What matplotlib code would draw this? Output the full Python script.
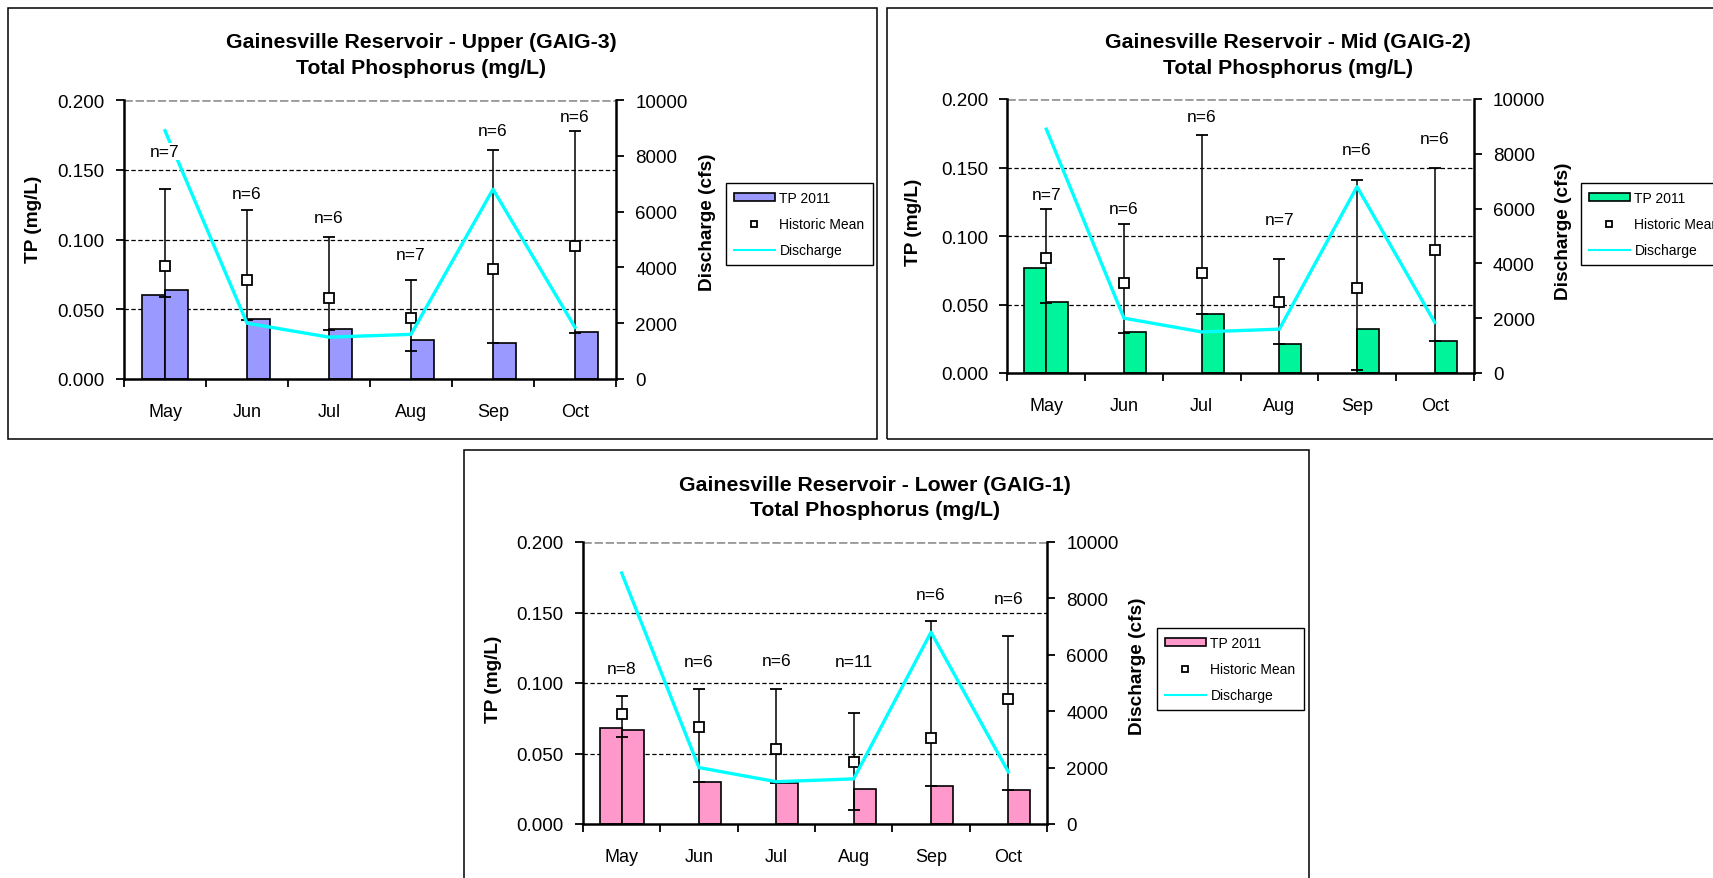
import numpy as np
import matplotlib
matplotlib.use('Agg')
import matplotlib.pyplot as plt
from matplotlib.patches import Rectangle, Patch
from matplotlib.lines import Line2D
from matplotlib.ticker import FormatStrFormatter

plt.rcParams['font.family'] = ['Liberation Sans', 'DejaVu Sans']

# ---------------- data ----------------
months = ['May', 'Jun', 'Jul', 'Aug', 'Sep', 'Oct']
discharge = [8900, 2000, 1500, 1600, 6800, 1850]
nan = np.nan

upper_tp_a = [0.060, nan, nan, nan, nan, nan]
upper_tp_b = [0.064, 0.043, 0.036, 0.028, 0.026, 0.034]
upper_mean = [0.081, 0.071, 0.058, 0.044, 0.079, 0.095]
upper_max = [0.136, 0.121, 0.102, 0.071, 0.164, 0.178]
upper_min = [0.059, 0.042, 0.035, 0.020, 0.026, 0.033]
upper_n = [7, 6, 6, 7, 6, 6]

mid_tp_a = [0.077, nan, nan, nan, nan, nan]
mid_tp_b = [0.052, 0.030, 0.043, 0.021, 0.032, 0.023]
mid_mean = [0.084, 0.066, 0.073, 0.052, 0.062, 0.090]
mid_max = [0.120, 0.109, 0.174, 0.083, 0.141, 0.150]
mid_min = [0.051, 0.029, 0.043, 0.021, 0.002, 0.023]
mid_n = [7, 6, 6, 7, 6, 6]

lower_tp_a = [0.068, nan, nan, nan, nan, nan]
lower_tp_b = [0.067, 0.030, 0.029, 0.025, 0.027, 0.024]
lower_mean = [0.078, 0.069, 0.053, 0.044, 0.061, 0.089]
lower_max = [0.091, 0.096, 0.096, 0.079, 0.144, 0.133]
lower_min = [0.062, 0.030, 0.029, 0.010, 0.027, 0.024]
lower_n = [8, 6, 6, 11, 6, 6]

# label placement (layout, in TP units)
upper_n_y = [0.163, 0.133, 0.116, 0.089, 0.178, 0.188]
mid_n_y = [0.130, 0.120, 0.187, 0.112, 0.163, 0.171]
lower_n_y = [0.110, 0.115, 0.116, 0.115, 0.163, 0.160]

# ---------------- layout ----------------
W, H = 1713, 879
fig = plt.figure(figsize=(W / 100, H / 100), dpi=100)


def fx(px):
    return px / W


def fy(py):
    return 1 - py / H


def frame(l, t, r, b):
    fig.add_artist(Rectangle((fx(l), fy(b)), fx(r - l), (b - t) / H,
                             transform=fig.transFigure, fill=False,
                             edgecolor='black', lw=1.1, clip_on=False))


def panel(ax_px, tp_a, tp_b, mean, lo, hi, nvals, n_y, color,
          title1, title2, title_xy, ylab_xy, y2lab_xy, leg_xy):
    l, t, r, b = ax_px
    ax = fig.add_axes([fx(l), fy(b), fx(r - l), (b - t) / H])
    x = np.arange(len(months))
    ax.set_xlim(-0.5, len(months) - 0.5)
    ax.set_ylim(0, 0.2)
    yt = np.arange(0, 0.2001, 0.05)
    ax.set_yticks(yt)
    ax.yaxis.set_major_formatter(FormatStrFormatter('%.3f'))
    for g in yt[1:-1]:
        ax.axhline(g, color='black', lw=0.9, ls=(0, (3.5, 2)), zorder=0.5)
    ax.axhline(yt[-1], color='#9a9a9a', lw=2.0, ls=(0, (3, 1)), zorder=0.5)

    bw = 0.285
    ax.bar(x, tp_a, width=-bw, align='edge', color=color,
           edgecolor='black', lw=1.2, zorder=2)
    ax.bar(x, tp_b, width=bw, align='edge', color=color,
           edgecolor='black', lw=1.2, zorder=2)
    mean = np.array(mean)
    yerr = [mean - np.array(lo), np.array(hi) - mean]
    ax.errorbar(x, mean, yerr=yerr, fmt='s', mfc='white', mec='black',
                ms=7, mew=1.3, ecolor='black', elinewidth=1.1,
                capsize=4, capthick=1.2, zorder=3)

    ax.set_xticks(x)
    ax.set_xticklabels(months)
    ax.set_xticks(np.arange(-0.5, len(months), 1), minor=True)
    ax.tick_params(axis='x', which='major', length=0, pad=17, labelsize=13)
    ax.tick_params(axis='x', which='minor', length=6, width=1.3,
                   direction='out')
    ax.tick_params(axis='y', length=6, width=1.3, direction='out', pad=8,
                   labelsize=13.5)
    for s in ['top', 'right']:
        ax.spines[s].set_visible(False)
    for s in ['left', 'bottom']:
        ax.spines[s].set_linewidth(1.8)

    ax2 = ax.twinx()
    ax2.set_ylim(0, 10000)
    ax2.set_yticks(np.arange(0, 10001, 2000))
    ax2.plot(x, discharge, color='#00FFFF', lw=2.4, zorder=2)
    ax2.tick_params(axis='y', length=6, width=1.3, direction='out', pad=8,
                    labelsize=13.5)
    for s in ['top', 'left', 'bottom']:
        ax2.spines[s].set_visible(False)
    ax2.spines['right'].set_linewidth(1.8)

    for xi, ni, yi in zip(x, nvals, n_y):
        ax2.text(xi, yi, f'n={ni}', transform=ax.transData, ha='center',
                 va='center', fontsize=12.5, zorder=6,
                 bbox=dict(fc='white', ec='none', pad=0.6))

    fig.text(fx(title_xy[0]), fy(title_xy[1]), title1, ha='center',
             va='center', fontsize=15.3, fontweight='bold')
    fig.text(fx(title_xy[0]), fy(title_xy[1] + 25), title2, ha='center',
             va='center', fontsize=15.3, fontweight='bold')
    fig.text(fx(ylab_xy[0]), fy(ylab_xy[1]), 'TP (mg/L)', rotation=90,
             ha='center', va='center', fontsize=13.7, fontweight='bold')
    fig.text(fx(y2lab_xy[0]), fy(y2lab_xy[1]), 'Discharge (cfs)',
             rotation=90, ha='center', va='center', fontsize=13.7,
             fontweight='bold')

    handles = [Patch(facecolor=color, edgecolor='black', lw=1.2),
               Line2D([], [], ls='none', marker='s', mfc='white',
                      mec='black', ms=5, mew=1.3),
               Line2D([], [], color='#00FFFF', lw=1.5)]
    fig.legend(handles, ['TP 2011', 'Historic Mean', 'Discharge'],
               loc='upper left', bbox_to_anchor=(fx(leg_xy[0]), fy(leg_xy[1])),
               borderaxespad=0, fontsize=10, frameon=True, fancybox=False,
               edgecolor='black', framealpha=1, handlelength=2.9,
               handleheight=0.5, handletextpad=0.35, labelspacing=0.85,
               borderpad=0.6)
    return ax, ax2


frame(7.6, 8.7, 877, 440)
frame(887, 8.7, 1730, 440)
frame(464, 451, 1309, 900)

panel((124, 101, 616, 380), upper_tp_a, upper_tp_b, upper_mean, upper_min,
      upper_max, upper_n, upper_n_y, '#9999FF',
      'Gainesville Reservoir - Upper (GAIG-3)', 'Total Phosphorus (mg/L)',
      (421, 43), (34, 219), (707, 222), (726, 184))

panel((1007.5, 100, 1473.5, 374), mid_tp_a, mid_tp_b, mid_mean, mid_min,
      mid_max, mid_n, mid_n_y, '#00F59B',
      'Gainesville Reservoir - Mid (GAIG-2)', 'Total Phosphorus (mg/L)',
      (1288, 43), (914, 222), (1563, 231), (1581, 184))

panel((583, 543, 1047, 825), lower_tp_a, lower_tp_b, lower_mean, lower_min,
      lower_max, lower_n, lower_n_y, '#FF99CC',
      'Gainesville Reservoir - Lower (GAIG-1)', 'Total Phosphorus (mg/L)',
      (875, 486), (493, 679), (1137, 666), (1157, 629))

fig.savefig('out.png', dpi=100)
